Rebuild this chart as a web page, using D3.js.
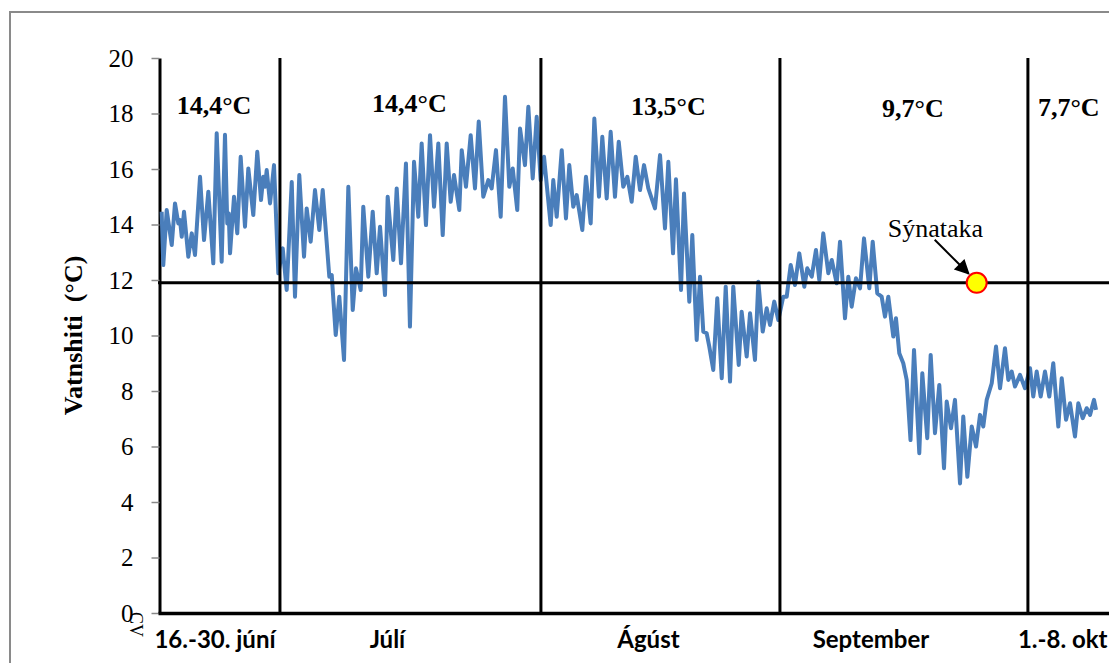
<!DOCTYPE html>
<html>
<head>
<meta charset="utf-8">
<script src="https://cdn.jsdelivr.net/npm/d3@7"></script>
<style>
body{margin:0;background:#fff;overflow:hidden}
svg{display:block}
</style>
</head>
<body>
<div id="chart"></div>
<script>
// days since 16 June (peaks and troughs)
let dayPos = [
	0.45,0.65,1.07,1.69,2.09,2.50,2.71,2.92,3.20,3.73,4.15,4.55,5.17,5.66,6.19,6.80,7.22,7.83,8.24,8.52,
	8.70,8.86,9.35,9.75,10.17,10.70,11.11,11.72,12.21,12.67,12.95,13.16,13.37,13.78,14.27,14.80,
	15.34,15.83,16.45,16.85,17.38,17.96,18.29,18.78,19.31,19.84,20.26,21.07,21.37,21.86,22.30,22.88,23.41,23.95,24.35,24.93,
	25.25,25.87,26.41,26.90,27.31,27.92,28.25,28.94,29.36,29.89,30.50,30.99,31.49,32.02,32.43,32.96,33.46,33.95,34.48,35.02,
	35.51,36.00,36.41,37.06,37.36,37.88,38.46,38.99,39.45,40.01,40.63,41.04,41.57,42.15,42.68,43.21,43.63,44.19,44.53,45.14,
	45.55,46.09,46.58,47.07,
	47.48,48.30,48.62,49.04,49.66,50.18,50.59,51.08,51.50,52.19,52.64,53.22,53.67,54.24,54.65,55.19,55.68,56.21,56.67,57.23,
	57.73,58.26,58.76,59.29,59.78,60.31,61.13,61.75,62.36,62.77,63.35,63.71,64.33,64.70,65.35,65.72,66.26,66.67,67.07,67.49,
	67.81,68.30,68.79,69.34,69.83,70.36,70.76,71.43,71.79,72.41,72.82,73.43,73.84,74.38,74.87,75.28,75.80,76.30,
	76.91,77.33,77.82,78.35,78.88,79.50,79.86,80.41,80.93,81.34,81.83,82.45,82.87,83.48,83.89,84.50,84.91,85.32,85.85,86.35,
	86.84,87.49,87.91,88.47,89.01,89.42,89.83,90.44,90.77,91.18,91.67,92.09,92.56,
	92.99,93.64,94.01,94.62,95.04,95.57,96.10,96.68,97.01,97.54,98.03,98.65,99.05,99.55,100.09,100.62,101.11,101.51,101.93,102.55,
	103.08,103.57,104.18,104.59,105.01,105.41,106.03,106.64,107.26,107.66,108.08,108.57,109.10,109.63,110.12,110.74,111.16,111.69,112.18,112.79,
	113.20,113.74,114.23,114.64,115.13,115.38
]

let tempC = [
	14.46,12.54,14.52,13.26,14.76,14.04,14.16,13.56,14.46,12.84,13.68,12.90,15.72,13.44,15.18,12.60,17.29,12.66,17.23,14.04,
	14.40,12.96,15.00,13.68,16.44,13.92,16.02,14.34,16.62,14.88,15.72,15.36,15.96,14.76,16.14,12.24,
	13.14,11.64,15.53,11.40,15.78,12.84,14.58,13.38,15.24,13.80,15.24,12.12,12.18,10.02,11.40,9.12,15.36,10.92,12.42,11.64,
	14.64,12.12,14.46,12.24,13.92,11.46,15.00,12.72,15.30,12.60,16.20,10.32,16.26,14.28,16.92,13.98,17.22,14.64,16.92,13.62,
	16.92,14.82,15.78,14.52,16.68,15.36,17.22,15.30,17.71,15.00,15.60,15.30,16.68,14.28,18.60,15.36,16.02,14.52,17.46,16.14,
	18.24,15.66,17.88,15.60,
	16.44,13.98,15.60,14.28,16.68,14.22,16.14,14.64,15.06,13.80,15.72,14.04,17.82,15.00,17.16,14.94,17.34,15.00,16.98,15.36,
	15.72,14.82,16.44,15.24,16.14,15.30,14.58,16.50,13.86,16.26,12.96,15.63,11.64,15.12,11.22,13.62,9.84,12.12,10.14,10.08,
	9.60,8.76,11.34,8.46,11.76,8.34,11.76,8.94,10.86,9.24,10.80,9.12,11.94,10.14,10.98,10.38,11.22,10.56,
	11.40,11.40,12.54,11.82,12.96,11.76,12.42,12.12,13.08,12.00,13.68,12.24,12.72,11.88,13.38,10.62,12.12,11.04,12.06,11.70,
	13.50,11.70,13.38,11.52,11.40,10.68,11.40,9.96,10.62,9.36,9.00,8.40,6.23,
	9.48,5.76,8.64,6.30,9.30,6.48,8.22,5.22,7.62,6.66,7.68,4.67,7.08,4.91,6.72,6.00,7.14,6.72,7.68,8.28,
	9.60,8.10,9.54,8.40,8.70,8.16,8.58,8.10,8.82,7.80,8.70,7.80,8.70,7.80,9.00,6.72,8.46,6.96,7.56,6.36,
	7.56,7.02,7.38,7.14,7.68,7.32
]

let yTicks = [0,2,4,6,8,10,12,14,16,18,20]
let periodBreaks = [0, 15.0, 47.1, 76.5, 107.0, 120]
let periodNames = ['16.-30. júní','Júlí','Ágúst','September','1.-8. okt']
let periodMeans = ['14,4°C','14,4°C','13,5°C','9,7°C','7,7°C']
let refTemp = 11.9
let sampleDay = 100.7
let sampleTemp = 11.9
let sampleName = 'Sýnataka'

function init(){
	let data = dayPos.map(function(d,i){ return {'x':d,'y':tempC[i]} })
	drawChart(data)
}

function drawChart(data){
	let W = 1109, H = 663

	let svg = d3.select('#chart')
	  .append('svg')
	    .attr('width', W)
	    .attr('height', H)

	// outer frame (cut off on right and bottom)
	svg.append('rect')
		.attr('x',10).attr('y',12)
		.attr('width',1200).attr('height',700)
		.attr('fill','none')
		.attr('stroke','#8a8a8a')
		.attr('stroke-width',2)

	let x = d3.scaleLinear()
		.domain([0,120])
		.range([158, 158 + 120*8.13])

	let y = d3.scaleLinear()
		.domain([0,20])
		.range([613, 58])

	// Y axis
	let yAxis = svg.append('g')
		.attr('transform','translate(159.5,0)')
		.call(d3.axisLeft(y).tickValues(yTicks).tickSize(8).tickSizeOuter(0).tickPadding(18))
	yAxis.select('.domain').attr('stroke','#000').attr('stroke-width',3)
	yAxis.selectAll('.tick line').attr('stroke','#888').attr('stroke-width',1.5)
	yAxis.selectAll('.tick text')
		.attr('font-family','"Liberation Serif", "Times New Roman", serif')
		.attr('font-size',25)
		.attr('fill','#000')

	svg.append('text')
		.attr('transform','translate(82,' + ((y(0)+y(20))/2) + ') rotate(-90)')
		.attr('text-anchor','middle')
		.attr('font-family','"Liberation Serif", "Times New Roman", serif')
		.attr('font-weight','bold')
		.attr('font-size',26)
		.style('white-space','pre')
		.text('Vatnshiti  (°C)')

	// stray rotated glyphs near the origin
	svg.append('text')
		.attr('transform','translate(130,612) rotate(90)')
		.attr('font-family','"Liberation Serif", "Times New Roman", serif')
		.attr('font-size',18)
		.text('CV')

	// temperature series
	svg.append('path')
		.datum(data)
		.attr('fill','none')
		.attr('stroke','#4a7ebb')
		.attr('stroke-width',4)
		.attr('stroke-linejoin','round')
		.attr('d', d3.line()
			.x(function(d){ return x(d.x) })
			.y(function(d){ return y(d.y) })
		)

	// reference line
	svg.append('line')
		.attr('x1',x(0)).attr('x2',W + 10)
		.attr('y1',y(refTemp)).attr('y2',y(refTemp))
		.attr('stroke','#000')
		.attr('stroke-width',3)

	// month dividers
	svg.selectAll('dividers')
		.data(periodBreaks.slice(1,5))
		.enter()
		.append('line')
		.attr('x1',function(d){ return x(d) })
		.attr('x2',function(d){ return x(d) })
		.attr('y1',y(20))
		.attr('y2',y(0))
		.attr('stroke','#000')
		.attr('stroke-width',3)

	// X axis
	let xAxis = svg.append('g')
		.attr('transform','translate(0,' + y(0) + ')')
		.call(d3.axisBottom(x).tickValues([]).tickSizeOuter(0))
	xAxis.select('.domain').attr('stroke','#000').attr('stroke-width',3.5)

	let meanNudge = [-5,-1,8,9,-12]
	let nameNudge = [-4,-23,-12,-33,-18]
	let meanBase = [114,112,115,117,116]

	svg.selectAll('means')
		.data(periodMeans)
		.enter()
		.append('text')
		.attr('x',function(d,i){ return (x(periodBreaks[i]) + x(periodBreaks[i+1]))/2 + meanNudge[i] })
		.attr('y',function(d,i){ return meanBase[i] })
		.attr('text-anchor','middle')
		.attr('font-family','"Liberation Serif", "Times New Roman", serif')
		.attr('font-weight','bold')
		.attr('font-size',26)
		.text(function(d){ return d })

	svg.selectAll('names')
		.data(periodNames)
		.enter()
		.append('text')
		.attr('x',function(d,i){ return (x(periodBreaks[i]) + x(periodBreaks[i+1]))/2 + nameNudge[i] })
		.attr('y',648)
		.attr('text-anchor','middle')
		.attr('font-family','Lato, "Open Sans", sans-serif')
		.attr('font-weight','bold')
		.attr('font-size',24)
		.text(function(d){ return d })

	// sample marker with arrow
	let sx = x(sampleDay), sy = y(sampleTemp)

	svg.append('defs').append('marker')
		.attr('id','arrowhead')
		.attr('viewBox','0 0 10 10')
		.attr('refX',9).attr('refY',5)
		.attr('markerWidth',18).attr('markerHeight',15)
		.attr('markerUnits','userSpaceOnUse')
		.attr('orient','auto')
	  .append('path')
		.attr('d','M0,0 L10,5 L0,10 Z')
		.attr('fill','#000')

	svg.append('line')
		.attr('x1',sx - 42).attr('y1',sy - 43)
		.attr('x2',sx - 8).attr('y2',sy - 9)
		.attr('stroke','#000')
		.attr('stroke-width',2)
		.attr('marker-end','url(#arrowhead)')

	svg.append('text')
		.attr('x',sx - 89)
		.attr('y',sy - 46)
		.attr('font-family','"Liberation Serif", "Times New Roman", serif')
		.attr('font-size',26)
		.text(sampleName)

	svg.append('circle')
		.attr('cx',sx).attr('cy',sy)
		.attr('r',10)
		.attr('fill','#ffff00')
		.attr('stroke','#ff0000')
		.attr('stroke-width',2)
}

init()
</script>
</body>
</html>
